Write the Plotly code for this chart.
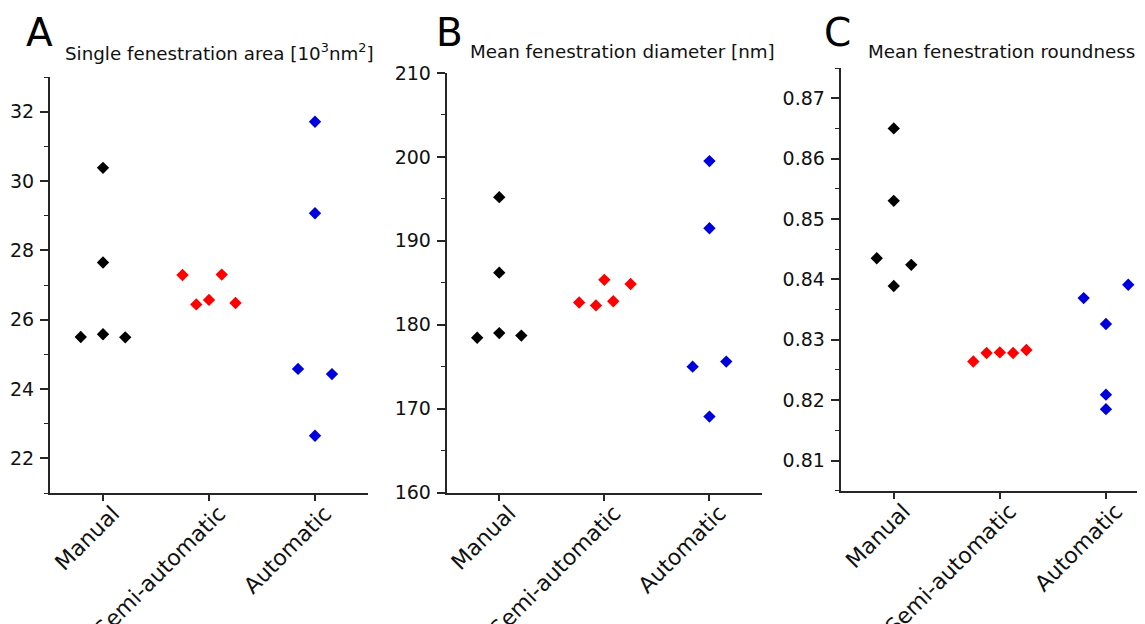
import plotly.graph_objects as go

# categories and colours as in the reference figure
categories = ["Manual", "Semi-automatic", "Automatic"]
group_colors = ["#000000", "#ff0000", "#0000dd"]

# A: single fenestration area [10^3 nm^2]
area_manual = [30.38, 27.65, 25.50, 25.58, 25.49]
area_semi = [27.29, 26.44, 26.57, 27.30, 26.48]
area_auto = [31.71, 29.07, 24.58, 22.65, 24.43]
area_manual_jitter = [0, 0, -0.21, 0, 0.21]
area_semi_jitter = [-0.25, -0.12, 0, 0.12, 0.25]
area_auto_jitter = [0, 0, -0.16, 0, 0.16]

# B: mean fenestration diameter [nm]
diam_manual = [195.2, 186.2, 178.45, 179.0, 178.7]
diam_semi = [182.65, 182.3, 185.35, 182.8, 184.85]
diam_auto = [199.5, 191.5, 175.0, 169.05, 175.6]
diam_manual_jitter = [0, 0, -0.21, 0, 0.21]
diam_semi_jitter = [-0.24, -0.08, 0, 0.085, 0.25]
diam_auto_jitter = [0, 0, -0.16, 0, 0.16]

# C: mean fenestration roundness
round_manual = [0.8650, 0.8530, 0.8435, 0.8389, 0.8424]
round_semi = [0.8264, 0.8278, 0.8279, 0.8278, 0.8283]
round_auto = [0.8369, 0.8391, 0.8326, 0.8209, 0.8185]
round_manual_jitter = [0, 0, -0.16, 0, 0.165]
round_semi_jitter = [-0.25, -0.125, 0, 0.125, 0.25]
round_auto_jitter = [-0.21, 0.21, 0, 0, 0]

# the page body keeps its default 8px margin, so the figure is drawn 8px in
OFFSET = 8
W, H = 1145 - OFFSET, 624 - OFFSET
FONT = "DejaVu Sans"
AXIS_COLOR = "#262626"


def px_x(v):
    return (v - OFFSET) / W


def px_y(v):
    return 1 - (v - OFFSET) / H


panels = [
    dict(
        letter="A",
        title="Single fenestration area [10<sup>3</sup>nm<sup>2</sup>]",
        groups=[area_manual, area_semi, area_auto],
        jitter=[area_manual_jitter, area_semi_jitter, area_auto_jitter],
        x_px=(50, 368),
        y_px=(77, 493),
        yrange=[21, 33],
        dtick=2,
        xrange=[0.5, 3.5],
        letter_x=24,
        title_x=63,
    ),
    dict(
        letter="B",
        title="Mean fenestration diameter [nm]",
        groups=[diam_manual, diam_semi, diam_auto],
        jitter=[diam_manual_jitter, diam_semi_jitter, diam_auto_jitter],
        x_px=(446.7, 762),
        y_px=(73, 492.5),
        yrange=[160, 210],
        dtick=10,
        xrange=[0.5, 3.5],
        letter_x=434,
        title_x=468,
    ),
    dict(
        letter="C",
        title="Mean fenestration roundness",
        groups=[round_manual, round_semi, round_auto],
        jitter=[round_manual_jitter, round_semi_jitter, round_auto_jitter],
        x_px=(840.7, 1145),
        y_px=(68, 490.7),
        yrange=[0.805, 0.875],
        dtick=0.01,
        xrange=[0.5, 3.368],
        letter_x=822,
        title_x=866,
    ),
]

fig = go.Figure()
annotations = []

for p_idx, panel in enumerate(panels):
    n = "" if p_idx == 0 else str(p_idx + 1)
    for g_idx, (vals, offs) in enumerate(zip(panel["groups"], panel["jitter"])):
        fig.add_trace(
            go.Scatter(
                x=[g_idx + 1 + o for o in offs],
                y=vals,
                mode="markers",
                marker={"symbol": "diamond", "size": 9.5, "color": group_colors[g_idx], "line": {"width": 0}},
                xaxis="x" + n,
                yaxis="y" + n,
                showlegend=False,
                name=categories[g_idx],
            )
        )

    fig.layout["xaxis" + n] = dict(
        domain=[px_x(panel["x_px"][0]), px_x(panel["x_px"][1])],
        range=panel["xrange"],
        anchor="y" + n,
        automargin=False,
        tickvals=[1, 2, 3],
        ticktext=categories,
        tickangle=-45,
        ticks="outside",
        ticklen=6,
        tickwidth=1.5,
        tickcolor=AXIS_COLOR,
        ticklabelstandoff=-9,
        ticklabelshift=10,
        showline=True,
        linecolor=AXIS_COLOR,
        linewidth=2,
        showgrid=False,
        zeroline=False,
        tickfont={"family": FONT, "size": 22, "color": "#111"},
    )
    fig.layout["yaxis" + n] = dict(
        domain=[px_y(panel["y_px"][1]), px_y(panel["y_px"][0])],
        range=panel["yrange"],
        anchor="x" + n,
        automargin=False,
        dtick=panel["dtick"],
        ticks="outside",
        ticklen=8,
        tickwidth=1.5,
        tickcolor=AXIS_COLOR,
        minor={"ticks": "outside", "ticklen": 4, "dtick": panel["dtick"] / 2, "tickcolor": AXIS_COLOR, "tickwidth": 1.2},
        ticklabelstandoff=2,
        showline=True,
        linecolor=AXIS_COLOR,
        linewidth=2,
        showgrid=False,
        zeroline=False,
        tickfont={"family": FONT, "size": 19, "color": "#111"},
    )

    annotations.append(
        dict(
            text=panel["letter"],
            x=px_x(panel["letter_x"]),
            y=px_y(32.5),
            xref="paper",
            yref="paper",
            xanchor="left",
            yanchor="middle",
            showarrow=False,
            font={"family": FONT, "size": 39, "color": "#000"},
        )
    )
    annotations.append(
        dict(
            text=panel["title"],
            x=px_x(panel["title_x"]),
            y=px_y(52),
            xref="paper",
            yref="paper",
            xanchor="left",
            yanchor="middle",
            showarrow=False,
            font={"family": FONT, "size": 18.3, "color": "#111"},
        )
    )

fig.update_layout(
    width=W,
    height=H,
    margin={"l": 0, "r": 0, "t": 0, "b": 0},
    plot_bgcolor="white",
    paper_bgcolor="white",
    annotations=annotations,
)

fig.write_html("out.html")
